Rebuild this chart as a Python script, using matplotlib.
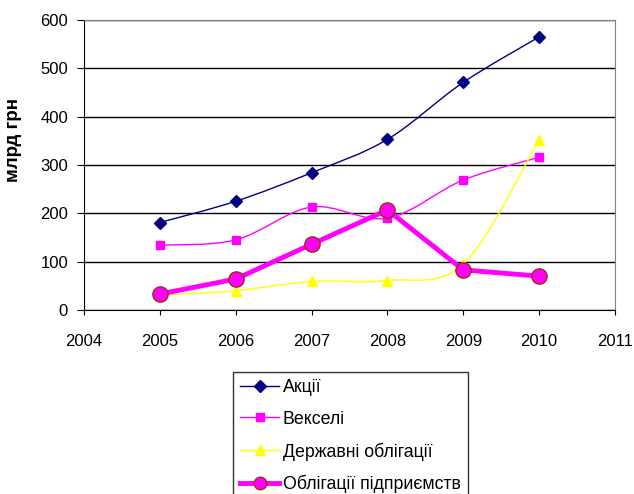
import numpy as np
from matplotlib import pyplot as plt
from matplotlib import rc
from matplotlib.path import Path
from matplotlib.patches import PathPatch
from matplotlib.lines import Line2D

rc('font', family=['Liberation Sans', 'DejaVu Sans'])

years = [2005, 2006, 2007, 2008, 2009, 2010]
akcii = [181, 225, 284, 353, 471, 565]
vekseli = [134, 145, 213, 190, 269, 316]
derzh = [31, 40, 59, 61, 95, 352]
pidpr = [33, 64, 136, 207, 83, 70]

labels = ['Акції', 'Векселі', 'Державні облігації', 'Облігації підприємств']


def smooth_path(x, y):
    # Excel-like smoothed line: Catmull-Rom as cubic Bezier segments
    x = np.asarray(x, float)
    y = np.asarray(y, float)
    verts = [(x[0], y[0])]
    codes = [Path.MOVETO]
    n = len(x)
    for i in range(n - 1):
        p0 = (x[i - 1], y[i - 1]) if i > 0 else (x[i], y[i])
        p1 = (x[i], y[i])
        p2 = (x[i + 1], y[i + 1])
        p3 = (x[i + 2], y[i + 2]) if i + 2 < n else (x[i + 1], y[i + 1])
        c1 = (p1[0] + (p2[0] - p0[0]) / 6, p1[1] + (p2[1] - p0[1]) / 6)
        c2 = (p2[0] - (p3[0] - p1[0]) / 6, p2[1] - (p3[1] - p1[1]) / 6)
        verts += [c1, c2, p2]
        codes += [Path.CURVE4] * 3
    return Path(verts, codes)


fig = plt.figure(figsize=(6.34, 4.94), dpi=100)
ax = fig.add_axes([0.1325, 0.3725, 0.8375, 0.587])

styles = [
    dict(color='#000080', marker='D', ms=6),
    dict(color='#FF00FF', marker='s', ms=6),
    dict(color='#FFFF00', marker='^', ms=7),
]
for vals, st in zip([akcii, vekseli, derzh], styles):
    ax.add_patch(PathPatch(smooth_path(years, vals), fill=False,
                           edgecolor=st['color'], lw=1, zorder=3))
    ax.plot(years, vals, ls='none', marker=st['marker'], ms=st['ms'],
            mfc=st['color'], mec=st['color'], zorder=4)

ax.plot(years, pidpr, color='#FF00FF', lw=3.5, marker='o', ms=11,
        mfc='#FF00FF', mec='#993300', mew=1, zorder=5)

ax.set_xlim(2004, 2011)
ax.set_ylim(0, 600)
ax.set_xticks(range(2004, 2012))
ax.set_yticks(range(0, 601, 100))
ax.tick_params(labelsize=12, color='black', direction='out')
ax.tick_params(axis='x', length=3.6, pad=14)
ax.tick_params(axis='y', length=5, pad=6.5)
ax.yaxis.grid(True, color='black', lw=1)
ax.set_axisbelow(True)
ax.spines['top'].set_color('#808080')
ax.spines['right'].set_color('#808080')
ax.set_ylabel('млрд грн', fontsize=13.5, fontweight='bold')
ax.yaxis.set_label_coords(-0.117, 0.586)

handles = [
    Line2D([], [], color='#000080', marker='D', ms=6, lw=1),
    Line2D([], [], color='#FF00FF', marker='s', ms=6, lw=1),
    Line2D([], [], color='#FFFF00', marker='^', ms=7, lw=1),
    Line2D([], [], color='#FF00FF', marker='o', ms=9, mfc='#FF00FF', mec='#993300', lw=3.5),
]
fig.legend(handles, labels, loc='upper left', bbox_to_anchor=(233 / 634, 1 - 372 / 494),
           frameon=True, fancybox=False, edgecolor='black', fontsize=12.8,
           handlelength=2.2, handletextpad=0.2, labelspacing=0.82, borderpad=0.4,
           borderaxespad=0)

fig.savefig('out.png', dpi=100)
